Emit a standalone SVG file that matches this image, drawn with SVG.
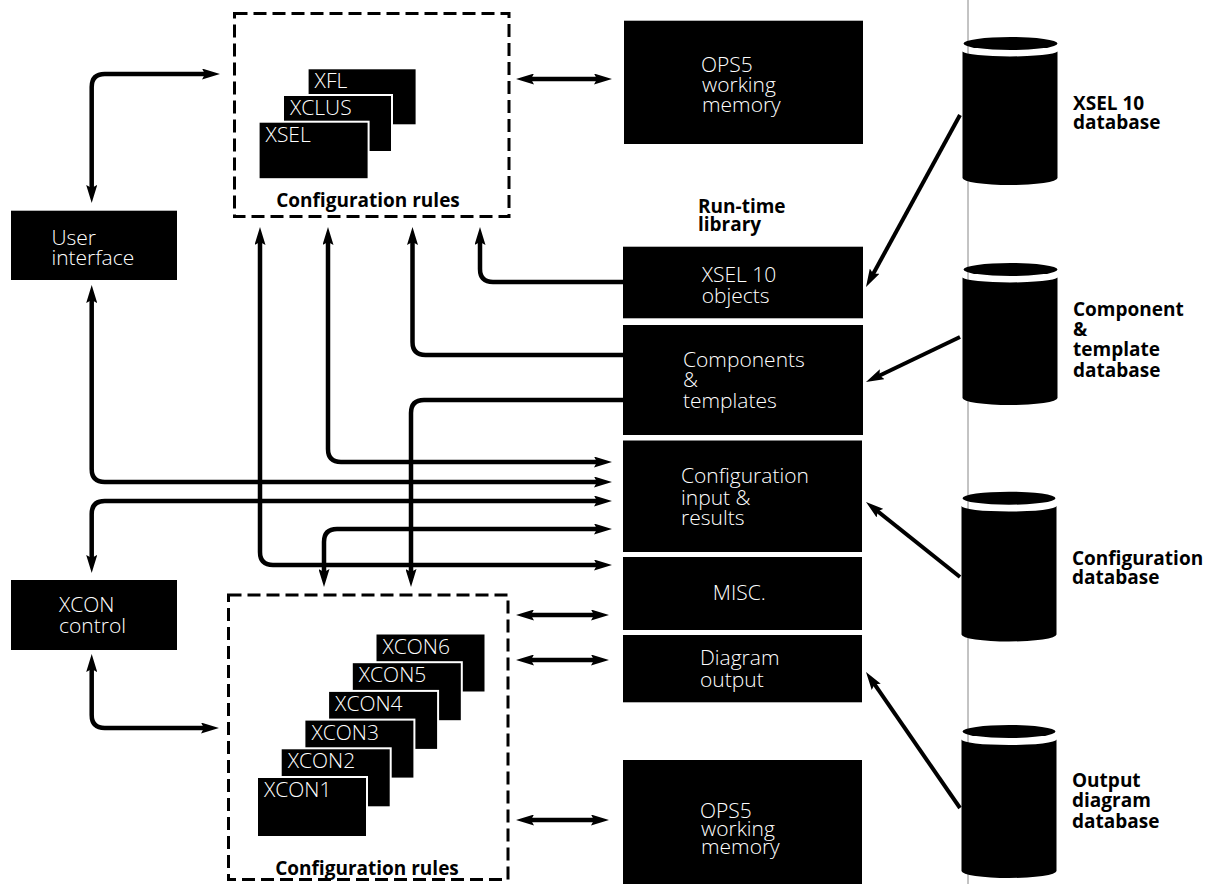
<svg xmlns="http://www.w3.org/2000/svg" width="1214" height="884" viewBox="0 0 1214 884">
<style>
.blk{fill:#000}
.stk{fill:#000;stroke:#fff;stroke-width:2}
.dash{fill:none;stroke:#000;stroke-width:3;stroke-dasharray:13 6}
.w{font-family:"Open Sans","Liberation Sans",sans-serif;font-size:21px;font-weight:300;fill:#fff}
.b{font-family:"Open Sans","Liberation Sans",sans-serif;font-size:19px;font-weight:700;fill:#000}
.c{fill:none;stroke:#000;stroke-width:4.5}
.d{fill:none;stroke:#000;stroke-width:4}
</style>
<defs>
<marker id="a" viewBox="0 0 18 11" markerWidth="18" markerHeight="11" refX="8" refY="5.5" orient="auto-start-reverse" markerUnits="userSpaceOnUse">
<path d="M0,0 L18,5.5 L0,11 L3,5.5 z" fill="#000"/>
</marker>
</defs>
<rect width="1214" height="884" fill="#fff"/>
<line x1="968" y1="0" x2="968" y2="884" stroke="#888" stroke-width="1"/>

<g id="rules-top">
<rect class="dash" x="234.5" y="13.5" width="274.5" height="203"/>
<rect class="stk" x="307.6" y="68.3" width="109" height="57"/>
<text class="w" x="314.6" y="88.3">XFL</text>
<rect class="stk" x="283" y="95" width="109" height="57"/>
<text class="w" x="290" y="115">XCLUS</text>
<rect class="stk" x="258.6" y="121.7" width="110" height="57.5"/>
<text class="w" x="265.6" y="141.7">XSEL</text>
<text class="b" x="368" y="206.5" text-anchor="middle">Configuration rules</text>
</g>

<g id="rules-bottom">
<rect class="dash" x="228.5" y="595" width="279.5" height="284.5"/>
<rect class="stk" x="375.5" y="633.5" width="110" height="59"/>
<text class="w" x="382.5" y="653.5">XCON6</text>
<rect class="stk" x="351.8" y="662.2" width="110" height="59"/>
<text class="w" x="358.8" y="682.2">XCON5</text>
<rect class="stk" x="328.1" y="690.9" width="110" height="59"/>
<text class="w" x="335.1" y="710.9">XCON4</text>
<rect class="stk" x="304.4" y="719.6" width="110" height="59"/>
<text class="w" x="311.4" y="739.6">XCON3</text>
<rect class="stk" x="280.7" y="748.3" width="110" height="59"/>
<text class="w" x="287.7" y="768.3">XCON2</text>
<rect class="stk" x="257" y="777" width="110" height="60"/>
<text class="w" x="264" y="797">XCON1</text>
<text class="b" x="367" y="875" text-anchor="middle">Configuration rules</text>
</g>

<g id="user-interface">
<rect class="blk" x="11" y="210.7" width="166" height="69.3"/>
<text class="w" x="51.4" y="245">User</text>
<text class="w" x="51.4" y="265">interface</text>
</g>

<g id="xcon-control">
<rect class="blk" x="11" y="580" width="166" height="70"/>
<text class="w" x="59" y="612">XCON</text>
<text class="w" x="59" y="633">control</text>
</g>

<g id="ops5-top">
<rect class="blk" x="624" y="20.7" width="239" height="123.3"/>
<text class="w" x="701" y="72">OPS5</text>
<text class="w" x="702" y="92">working</text>
<text class="w" x="702" y="112">memory</text>
</g>

<g id="runtime-label">
<text class="b" x="698" y="213">Run-time</text>
<text class="b" x="698" y="231">library</text>
</g>

<g id="xsel-objects">
<rect class="blk" x="623" y="246.7" width="240" height="71.6"/>
<text class="w" x="701.7" y="281.7">XSEL 10</text>
<text class="w" x="701.7" y="303">objects</text>
</g>

<g id="components">
<rect class="blk" x="623" y="325" width="240" height="110"/>
<text class="w" x="683" y="367">Components</text>
<text class="w" x="683" y="387">&amp;</text>
<text class="w" x="683" y="408">templates</text>
</g>

<g id="config-io">
<rect class="blk" x="623" y="440.5" width="239" height="111.5"/>
<text class="w" x="681" y="483">Configuration</text>
<text class="w" x="681" y="505">input &amp;</text>
<text class="w" x="681" y="525">results</text>
</g>

<g id="misc">
<rect class="blk" x="623" y="557" width="239" height="73"/>
<text class="w" x="712.8" y="600">MISC.</text>
</g>

<g id="diagram-output">
<rect class="blk" x="623" y="635" width="239" height="67.3"/>
<text class="w" x="700" y="665">Diagram</text>
<text class="w" x="700" y="687">output</text>
</g>

<g id="ops5-bottom">
<rect class="blk" x="623" y="760" width="239" height="124"/>
<text class="w" x="700" y="818">OPS5</text>
<text class="w" x="701" y="836">working</text>
<text class="w" x="701" y="854">memory</text>
</g>

<g id="db-xsel">
<path class="blk" d="M962.5,51.5 A47.75,5.5 0 0 0 1057.5,51.5 V178 A47.5,7 0 0 1 962.5,178 Z"/>
<ellipse class="blk" cx="1010.5" cy="43.5" rx="47" ry="6.5"/>
<text class="b" x="1073" y="110">XSEL 10</text>
<text class="b" x="1073" y="128.5">database</text>
</g>

<g id="db-component">
<path class="blk" d="M962.5,277.5 A47.75,5.5 0 0 0 1057.5,277.5 V398 A47.5,7 0 0 1 962.5,398 Z"/>
<ellipse class="blk" cx="1010.5" cy="269.5" rx="47" ry="6.5"/>
<text class="b" x="1073" y="315.5">Component</text>
<text class="b" x="1073" y="335.5">&amp;</text>
<text class="b" x="1073" y="356">template</text>
<text class="b" x="1073" y="377">database</text>
</g>

<g id="db-config">
<path class="blk" d="M961.5,506 A47.25,5.5 0 0 0 1056.5,506 V634.5 A47.5,7 0 0 1 961.5,634.5 Z"/>
<ellipse class="blk" cx="1009" cy="498.2" rx="46.5" ry="6.5"/>
<text class="b" x="1072" y="565">Configuration</text>
<text class="b" x="1072" y="584">database</text>
</g>

<g id="db-output">
<path class="blk" d="M961.5,739.5 A47.25,5.5 0 0 0 1056.5,739.5 V871 A47.5,7 0 0 1 961.5,871 Z"/>
<ellipse class="blk" cx="1009" cy="731.5" rx="46.5" ry="6.5"/>
<text class="b" x="1072" y="787">Output</text>
<text class="b" x="1072" y="807">diagram</text>
<text class="b" x="1072" y="828">database</text>
</g>

<g id="connectors">
<path class="c" d="M91.7,193 V87 Q91.7,74 104.7,74 H210" marker-start="url(#a)" marker-end="url(#a)"/>
<path class="c" d="M91.7,295 V469 Q91.7,482 104.7,482 H602" marker-start="url(#a)" marker-end="url(#a)"/>
<path class="c" d="M602,501 H104.7 Q91.7,501 91.7,514 V563" marker-start="url(#a)" marker-end="url(#a)"/>
<path class="c" d="M91.7,664 V715 Q91.7,728 104.7,728 H209" marker-start="url(#a)" marker-end="url(#a)"/>
<path class="c" d="M260,237 V552 Q260,565 273,565 H602" marker-start="url(#a)" marker-end="url(#a)"/>
<path class="c" d="M328,237 V449 Q328,462 341,462 H602" marker-start="url(#a)" marker-end="url(#a)"/>
<path class="c" d="M412.5,237 V342 Q412.5,355 425.5,355 H623" marker-start="url(#a)"/>
<path class="c" d="M480,237 V269 Q480,282 493,282 H623" marker-start="url(#a)"/>
<path class="c" d="M623,400 H424 Q411,400 411,413 V577" marker-end="url(#a)"/>
<path class="c" d="M602,529 H337 Q324,529 324,542 V577" marker-start="url(#a)" marker-end="url(#a)"/>
<path class="c" d="M526,79 H602" marker-start="url(#a)" marker-end="url(#a)"/>
<path class="c" d="M526,615 H599" marker-start="url(#a)" marker-end="url(#a)"/>
<path class="c" d="M526,660 H599" marker-start="url(#a)" marker-end="url(#a)"/>
<path class="c" d="M526,820 H599" marker-start="url(#a)" marker-end="url(#a)"/>
<path class="d" d="M960,115 L870.8,278.2" marker-end="url(#a)"/>
<path class="d" d="M960,337 L875,377.7" marker-end="url(#a)"/>
<path class="d" d="M960,577 L873.8,508.2" marker-end="url(#a)"/>
<path class="d" d="M960,808 L871.7,680.2" marker-end="url(#a)"/>
</g>
</svg>
